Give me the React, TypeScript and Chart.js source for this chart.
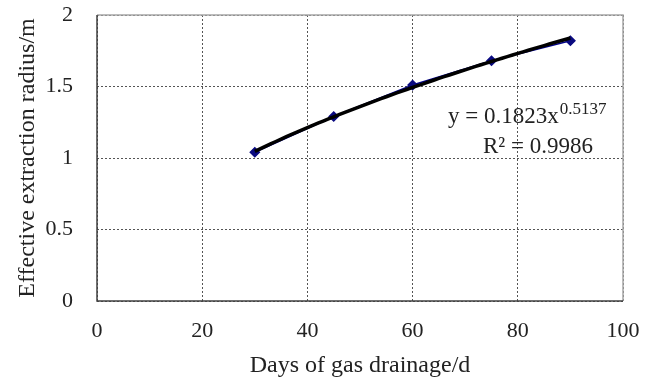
import React, { useEffect, useRef } from "react";
import { Chart, registerables } from "chart.js";

Chart.register(...registerables);

// Measured extraction radius at each drainage duration
const drainageDays = [30, 45, 60, 75, 90];
const radiusValues = [1.04, 1.29, 1.51, 1.68, 1.82];

// Power-law fit y = a * x^b shown in the annotation
const fitCoefA = 0.1823;
const fitCoefB = 0.5137;
const fitR2 = "0.9986";
const fitStartDay = 30;
const fitEndDay = 90;
const fitSamples = 61;

const xTicks = [0, 20, 40, 60, 80, 100];
const yTicks = [0, 0.5, 1, 1.5, 2];

const xTitle = "Days of gas drainage/d";
const yTitle = "Effective extraction radius/m";

const SERIF = "'Liberation Serif', 'Times New Roman', serif";

const fitPoints = Array.from({ length: fitSamples }, (_, i) => {
  const x = fitStartDay + ((fitEndDay - fitStartDay) * i) / (fitSamples - 1);
  return { x, y: fitCoefA * Math.pow(x, fitCoefB) };
});

// Frame: light grey top/right border, dark left/bottom axes
const framePlugin = {
  id: "frame",
  afterDatasetsDraw(chart: any) {
    const { ctx, chartArea: a } = chart;
    ctx.save();
    ctx.lineWidth = 1.5;
    ctx.strokeStyle = "#a6a6a6";
    ctx.beginPath();
    ctx.moveTo(a.left, a.top);
    ctx.lineTo(a.right, a.top);
    ctx.lineTo(a.right, a.bottom);
    ctx.stroke();
    ctx.strokeStyle = "#404040";
    ctx.beginPath();
    ctx.moveTo(a.left, a.top);
    ctx.lineTo(a.left, a.bottom);
    ctx.lineTo(a.right, a.bottom);
    ctx.stroke();
    ctx.restore();
  },
};

// Fit equation and R² text
const equationPlugin = {
  id: "equation",
  afterDraw(chart: any) {
    const { ctx, chartArea: a } = chart;
    ctx.save();
    ctx.fillStyle = "#222";
    ctx.textBaseline = "alphabetic";
    ctx.textAlign = "left";
    const main = `y = ${fitCoefA}x`;
    const sup = `${fitCoefB}`;
    const x0 = a.left + 351;
    const y0 = a.top + 108;
    ctx.font = `23px ${SERIF}`;
    const mainW = ctx.measureText(main).width;
    ctx.fillText(main, x0, y0);
    ctx.font = `17px ${SERIF}`;
    ctx.fillText(sup, x0 + mainW + 1, y0 - 9);
    ctx.font = `23px ${SERIF}`;
    ctx.fillText(`R² = ${fitR2}`, x0 + 35, y0 + 30);
    ctx.restore();
  },
};

export default function App() {
  const canvasRef = useRef<HTMLCanvasElement | null>(null);

  useEffect(() => {
    document.body.style.margin = "0";
    const canvas = canvasRef.current;
    if (!canvas) return;
    const chart = new Chart(canvas, {
      type: "scatter",
      data: {
        datasets: [
          {
            label: "Fit",
            data: fitPoints,
            showLine: true,
            borderColor: "#000000",
            borderWidth: 3.5,
            pointRadius: 0,
            order: 0,
          },
          {
            label: "Measured",
            data: drainageDays.map((d, i) => ({ x: d, y: radiusValues[i] })),
            showLine: true,
            borderColor: "#00008b",
            borderWidth: 1.5,
            pointStyle: "rectRot",
            pointRadius: 4.5,
            pointBackgroundColor: "#0a0a80",
            pointBorderColor: "#0a0a80",
            order: 1,
          },
        ],
      },
      options: {
        responsive: false,
        animation: false,
        devicePixelRatio: 1,
        layout: { padding: { left: 0, right: 34, top: 15, bottom: 0 } },
        plugins: {
          legend: { display: false },
          tooltip: { enabled: false },
        },
        scales: {
          x: {
            type: "linear",
            min: 0,
            max: 100,
            afterBuildTicks: (s: any) => {
              s.ticks = xTicks.map((v) => ({ value: v }));
            },
            afterFit: (s: any) => {
              s.height = 79;
              s.paddingLeft = 0;
              s.paddingRight = 0;
            },
            grid: {
              color: "#555",
              lineWidth: 1,
              drawTicks: false,
            },
            border: { display: false, dash: [2, 2] },
            ticks: {
              color: "#222",
              padding: 17,
              font: { family: SERIF, size: 22 },
              maxRotation: 0,
              callback: (v: any) => String(v),
            },
            title: {
              display: true,
              text: xTitle,
              color: "#222",
              font: { family: SERIF, size: 24 },
              padding: { top: 2, bottom: 0 },
            },
          },
          y: {
            type: "linear",
            min: 0,
            max: 2,
            afterBuildTicks: (s: any) => {
              s.ticks = yTicks.map((v) => ({ value: v }));
            },
            afterFit: (s: any) => {
              s.width = 97;
              s.paddingTop = 0;
              s.paddingBottom = 0;
            },
            grid: {
              color: "#555",
              lineWidth: 1,
              drawTicks: false,
            },
            border: { display: false, dash: [2, 2] },
            ticks: {
              color: "#222",
              padding: 24,
              font: { family: SERIF, size: 22 },
              callback: (v: any) => String(v),
            },
            title: {
              display: true,
              text: yTitle,
              color: "#222",
              font: { family: SERIF, size: 24 },
              padding: { top: 13, bottom: 0 },
            },
          },
        },
      },
      plugins: [framePlugin, equationPlugin],
    });
    return () => chart.destroy();
  }, []);

  return <canvas ref={canvasRef} width={657} height={380} />;
}
